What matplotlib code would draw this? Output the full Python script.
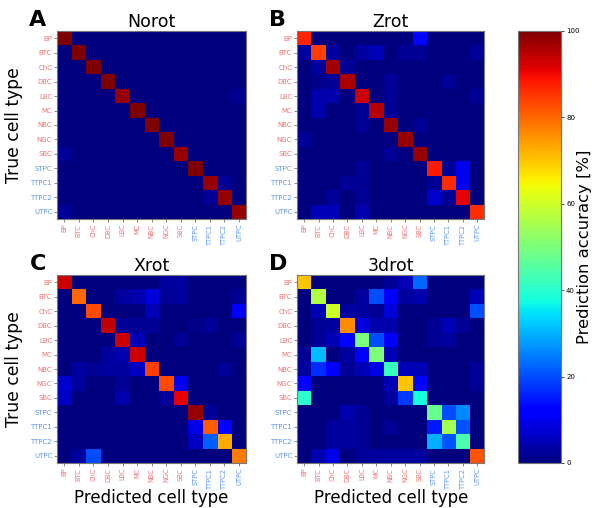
import matplotlib
matplotlib.use("Agg")
import matplotlib.pyplot as plt
import numpy as np

labels = ['BP', 'BTC', 'ChC', 'DBC', 'LBC', 'MC', 'NBC', 'NGC', 'SBC',
          'STPC', 'TTPC1', 'TTPC2', 'UTPC']
n_inter = 9  # first 9 labels are interneurons (red), rest pyramidal (blue)
titles = ['Norot', 'Zrot', 'Xrot', '3drot']
letters = ['A', 'B', 'C', 'D']

# confusion matrices in %, rows = true type, columns = predicted type
norot = [
    [100, 0, 0, 0, 0, 0, 0, 0, 0, 0, 0, 0, 0],
    [0, 100, 0, 0, 0, 0, 0, 0, 0, 0, 0, 0, 0],
    [0, 0, 100, 0, 0, 0, 0, 0, 0, 0, 0, 0, 0],
    [0, 0, 0, 100, 0, 0, 0, 0, 0, 0, 0, 0, 0],
    [0, 0, 0, 0, 98, 0, 0, 0, 0, 0, 0, 0, 2],
    [0, 0, 0, 0, 0, 100, 0, 0, 0, 0, 0, 0, 0],
    [0, 0, 0, 0, 0, 0, 100, 0, 0, 0, 0, 0, 0],
    [0, 0, 0, 0, 0, 0, 0, 100, 0, 0, 0, 0, 0],
    [2, 0, 0, 0, 0, 0, 0, 0, 98, 0, 0, 0, 0],
    [0, 0, 0, 0, 0, 0, 0, 0, 0, 100, 0, 0, 0],
    [0, 0, 0, 0, 0, 0, 0, 0, 0, 0, 98, 2, 0],
    [0, 0, 0, 0, 0, 0, 0, 0, 0, 0, 2, 98, 0],
    [2, 0, 0, 0, 0, 0, 0, 0, 0, 0, 0, 0, 98],
]
zrot = [
    [87, 0, 0, 0, 0, 0, 0, 0, 13, 0, 0, 0, 0],
    [3, 84, 3, 0, 3, 5, 0, 2, 2, 0, 0, 0, 2],
    [0, 3, 97, 2, 0, 0, 0, 0, 0, 0, 0, 0, 0],
    [0, 1, 2, 96, 0, 0, 2, 0, 0, 0, 2, 0, 0],
    [0, 4, 4, 0, 93, 0, 2, 0, 0, 0, 0, 0, 2],
    [0, 4, 0, 0, 2, 95, 2, 0, 0, 0, 0, 0, 0],
    [0, 0, 0, 0, 2, 0, 98, 0, 2, 0, 0, 0, 0],
    [2, 0, 0, 0, 0, 0, 0, 98, 0, 0, 0, 0, 0],
    [0, 0, 0, 0, 0, 0, 2, 0, 98, 0, 0, 0, 0],
    [0, 0, 0, 0, 2, 0, 0, 0, 0, 88, 2, 10, 0],
    [0, 0, 0, 2, 2, 0, 0, 0, 0, 2, 86, 10, 0],
    [0, 0, 2, 0, 2, 0, 0, 0, 0, 7, 2, 91, 0],
    [0, 5, 5, 0, 4, 0, 0, 0, 0, 0, 0, 0, 86],
]
xrot = [
    [93, 0, 0, 0, 0, 0, 0, 3, 3, 0, 0, 0, 0],
    [0, 80, 0, 0, 3, 4, 8, 2, 3, 0, 0, 0, 2],
    [0, 0, 83, 0, 0, 0, 5, 0, 0, 0, 0, 0, 12],
    [0, 0, 0, 94, 2, 2, 2, 0, 0, 1, 2, 0, 0],
    [0, 0, 0, 0, 93, 5, 0, 0, 2, 0, 0, 0, 2],
    [0, 0, 0, 3, 4, 93, 0, 0, 0, 0, 0, 0, 0],
    [0, 3, 2, 3, 3, 6, 84, 0, 0, 0, 0, 2, 0],
    [7, 3, 0, 0, 2, 0, 0, 83, 10, 0, 0, 0, 0],
    [6, 0, 0, 0, 4, 0, 0, 3, 91, 0, 0, 0, 0],
    [0, 0, 0, 0, 0, 0, 0, 0, 0, 98, 2, 0, 0],
    [0, 0, 0, 0, 0, 0, 0, 0, 0, 9, 81, 11, 0],
    [0, 0, 0, 0, 0, 0, 0, 0, 0, 6, 22, 73, 0],
    [0, 3, 20, 0, 0, 0, 0, 0, 0, 0, 0, 0, 78],
]
drot3 = [
    [70, 0, 0, 0, 0, 0, 2, 5, 23, 0, 0, 0, 0],
    [0, 57, 0, 0, 3, 20, 12, 3, 4, 0, 0, 0, 5],
    [0, 5, 60, 3, 3, 2, 8, 0, 0, 0, 0, 0, 20],
    [0, 2, 3, 76, 8, 4, 4, 0, 0, 2, 5, 2, 0],
    [0, 2, 5, 13, 50, 20, 11, 0, 0, 2, 3, 0, 0],
    [2, 31, 0, 3, 12, 50, 5, 0, 0, 0, 0, 0, 0],
    [3, 17, 12, 2, 5, 9, 42, 5, 5, 0, 0, 0, 2],
    [11, 0, 0, 0, 0, 0, 5, 70, 13, 0, 0, 0, 2],
    [40, 0, 0, 0, 0, 0, 3, 18, 38, 0, 0, 0, 0],
    [0, 0, 0, 4, 2, 0, 0, 0, 0, 48, 20, 26, 0],
    [0, 0, 3, 3, 2, 0, 2, 0, 0, 15, 55, 21, 0],
    [0, 0, 3, 3, 2, 0, 0, 0, 0, 30, 21, 44, 0],
    [0, 4, 9, 0, 2, 3, 3, 3, 3, 0, 0, 0, 82],
]
mats = [norot, zrot, xrot, drot3]

red_lab = '#f07474'
blue_lab = '#5a96ec'

fig = plt.figure(figsize=(5.97, 5.08), dpi=100)

# axes positions [left, bottom, width, height] in figure fraction
positions = [
    [0.0955, 0.569, 0.317, 0.370],
    [0.4975, 0.569, 0.314, 0.370],
    [0.0955, 0.0886, 0.317, 0.370],
    [0.4975, 0.0886, 0.314, 0.370],
]

for i in range(4):
    ax = fig.add_axes(positions[i])
    im = ax.imshow(np.array(mats[i]), cmap='jet', vmin=0, vmax=100,
                   aspect='auto', interpolation='nearest')
    ax.set_xticks(range(len(labels)))
    ax.set_yticks(range(len(labels)))
    ax.set_xticklabels(labels, rotation=90, fontsize=4.8)
    ax.set_yticklabels(labels, fontsize=5)
    ax.tick_params(length=2, width=0.5, pad=1.5, color='#555555')
    for k, t in enumerate(ax.get_xticklabels()):
        t.set_color(red_lab if k < n_inter else blue_lab)
    for k, t in enumerate(ax.get_yticklabels()):
        t.set_color(red_lab if k < n_inter else blue_lab)
    for s in ax.spines.values():
        s.set_color('#777777')
        s.set_linewidth(0.8)
    ax.set_title(titles[i], fontsize=12.5, pad=3)
    if i % 2 == 0:
        ax.set_ylabel('True cell type', fontsize=12.3, labelpad=5)
    if i >= 2:
        ax.set_xlabel('Predicted cell type', fontsize=12, labelpad=0)
    fig.text(positions[i][0] - 0.032, positions[i][1] + positions[i][3] + 0.022,
             letters[i], fontsize=16, fontweight='bold', ha='center', va='center')

cax = fig.add_axes([0.868, 0.0886, 0.072, 0.8504])
cb = fig.colorbar(im, cax=cax, ticks=[0, 20, 40, 60, 80, 100])
cb.ax.tick_params(labelsize=5, length=2, width=0.5, pad=1.5)
cb.outline.set_edgecolor('#777777')
cb.outline.set_linewidth(0.8)
cb.set_label('Prediction accuracy [%]', fontsize=11.8, labelpad=-1.5)

plt.savefig('out.png', dpi=100)
